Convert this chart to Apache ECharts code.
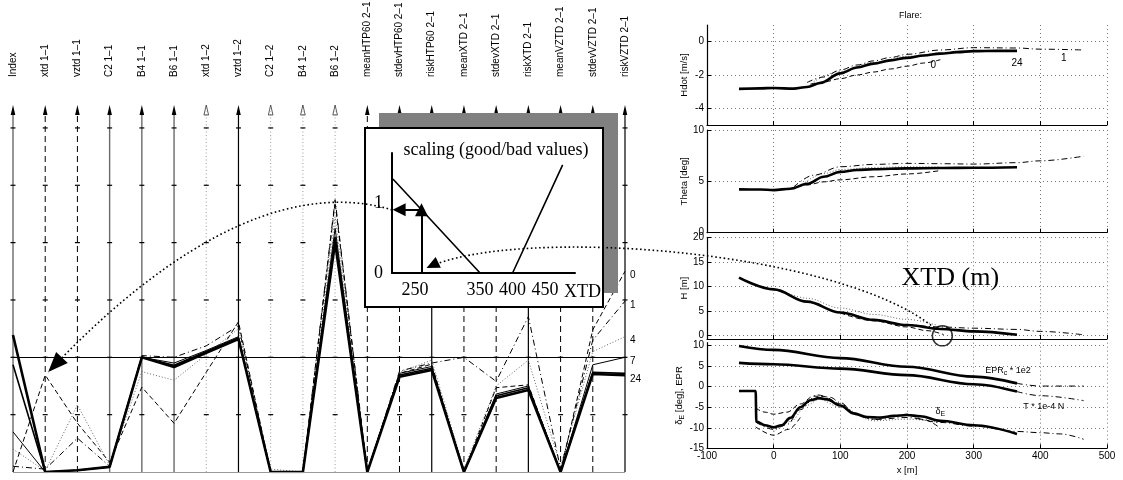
<!DOCTYPE html>
<html>
<head>
<meta charset="utf-8">
<script src="https://cdn.jsdelivr.net/npm/echarts@6/dist/echarts.min.js"></script>
<style>
  html, body { margin: 0; padding: 0; background: #fff; }
  #c { width: 1123px; height: 480px; }
</style>
</head>
<body>
<div id="c"></div>
<script>
// ---------------- Parallel coordinates (left panel) ----------------
const axisNames = ['Index', 'xtd 1–1', 'vztd 1–1', 'C2 1–1', 'B4 1–1', 'B6 1–1', 'xtd 1–2', 'vztd 1–2',
  'C2 1–2', 'B4 1–2', 'B6 1–2', 'meanHTP60 2–1', 'stdevHTP60 2–1', 'riskHTP60 2–1', 'meanXTD 2–1',
  'stdevXTD 2–1', 'riskXTD 2–1', 'meanVZTD 2–1', 'stdevVZTD 2–1', 'riskVZTD 2–1'];
const axisKinds = ['grey', 'dash', 'dash', 'grey', 'grey', 'grey', 'dot', 'solid', 'dot', 'dot', 'dot',
  'dash', 'dash', 'solid', 'dash', 'dash', 'solid', 'dash', 'dash', 'solid'];
const pcTickValues = [1, 2, 3, 4, 5, 6];
const pcThreshold = 2;

// one value per axis for each run (scaled axis units)
const run0  = [0.00, 1.69, 0.85, 0.17, 1.48, 0.85, 1.74, 2.62, 0.00, 0.00, 4.70, 0.00, 1.72, 1.88, 0.00, 1.47, 1.52, 0.00, 2.48, 3.50];
const run1  = [0.10, 0.05, 0.59, 0.10, 2.03, 2.00, 2.20, 2.55, 0.00, 0.00, 4.75, 0.00, 1.76, 1.90, 2.00, 1.58, 2.71, 0.05, 2.30, 2.98];
const run4  = [0.40, 0.02, 1.17, 0.12, 1.75, 1.60, 2.05, 2.50, 0.05, 0.00, 4.45, 0.02, 1.74, 1.95, 0.05, 1.50, 1.95, 0.10, 2.10, 2.36];
const run7  = [0.70, 0.00, 0.03, 0.09, 2.00, 1.90, 2.12, 2.36, 0.00, 0.00, 4.25, 0.00, 1.72, 1.84, 0.00, 1.36, 1.50, 0.00, 1.87, 2.00];
const run19 = [1.87, 0.00, 0.03, 0.09, 2.00, 1.86, 2.10, 2.34, 0.00, 0.00, 4.10, 0.00, 1.69, 1.81, 0.00, 1.33, 1.47, 0.00, 1.74, 1.72];
const run24 = [2.39, 0.00, 0.03, 0.09, 2.00, 1.83, 2.08, 2.32, 0.00, 0.00, 4.00, 0.00, 1.66, 1.78, 0.00, 1.29, 1.43, 0.00, 1.71, 1.69];

// ---------------- Inset: XTD scaling ----------------
const scalingXtd   = [216, 250, 350, 400, 450, 477];
const scalingScore = [1.34, 1, 0, 0, 1, 1.54];
const insetTicksX  = [250, 350, 400, 450];
const insetTicksY  = [0, 1];
const exampleXtd   = 260;

// ---------------- Flare time histories (right panel), [x (m), value] ----------------
const hdotRun24 = [[-52,-2.83],[-20,-2.8],[0,-2.78],[30,-2.82],[50,-2.72],[70,-2.48],[100,-1.9],[125,-1.55],[150,-1.32],[175,-1.12],[200,-0.97],[225,-0.83],[250,-0.72],[275,-0.63],[300,-0.57],[335,-0.55],[365,-0.55]];
const hdotRun0  = [[55,-2.55],[75,-2.42],[100,-2.22],[125,-2.0],[150,-1.82],[175,-1.64],[200,-1.47],[225,-1.28],[250,-1.08]];
const hdotRun1  = [[50,-2.45],[75,-2.12],[100,-1.7],[125,-1.4],[150,-1.15],[175,-0.95],[200,-0.76],[250,-0.5],[300,-0.36],[365,-0.38],[400,-0.45],[465,-0.5]];
const hdotRun4  = [[60,-2.4],[100,-1.78],[150,-1.24],[200,-0.88],[250,-0.64]];

const thetaRun24 = [[-52,4.22],[-20,4.2],[0,4.15],[25,4.28],[50,4.75],[75,5.45],[100,5.92],[125,6.1],[150,6.18],[200,6.26],[250,6.3],[300,6.33],[365,6.38]];
const thetaRun0  = [[25,4.3],[50,4.65],[75,4.95],[100,5.15],[150,5.45],[200,5.72],[250,6.05]];
const thetaRun1  = [[30,4.45],[60,5.6],[100,6.42],[150,6.65],[200,6.75],[250,6.72],[300,6.68],[365,6.82],[400,7.0],[465,7.45]];
const thetaRun4  = [[40,4.55],[75,5.75],[100,6.15],[150,6.35],[200,6.42],[250,6.4]];

const hRun24 = [[-52,11.8],[0,9.4],[50,6.9],[100,4.7],[150,3.2],[200,2.15],[250,1.35],[300,0.85],[365,0.15]];
const hRun0  = [[100,4.6],[150,3.0],[200,1.75],[230,1.0],[255,0.2]];
const hRun1  = [[200,2.3],[250,1.75],[300,1.5],[365,1.25],[400,0.85],[465,0.15]];
const hRun4  = [[10,9.3],[50,7.6],[100,5.6],[150,4.3],[200,3.3],[245,2.1]];
const xtdMarker = [253, -0.06];

const eprRun     = [[-52,9.9],[0,8.95],[100,6.95],[200,4.85],[300,2.45],[365,0.8]];
const eprExt     = [[365,0.8],[400,0.15],[465,0.15]];
const thrustRun  = [[-52,5.8],[0,5.45],[100,4.4],[200,2.8],[300,0.6],[365,-1.2]];
const thrustExt  = [[365,-1.2],[400,-2.2],[465,-3.4]];
const elevRun24  = [[-52,-1.05],[-27,-1.05],[-26,-8.5],[-13,-9.4],[0,-9.9],[12,-9.4],[25,-7.6],[40,-5.0],[55,-3.3],[68,-2.8],[80,-3.1],[100,-4.6],[120,-6.5],[140,-7.4],[160,-7.5],[180,-7.1],[200,-6.9],[220,-7.2],[250,-8.3],[300,-9.4],[365,-11.5]];
const elevRun0   = [[-27,-5.2],[-13,-6.2],[0,-6.7],[20,-6.2],[40,-4.2],[60,-2.3],[75,-2.4],[100,-4.2],[125,-6.8],[150,-7.9],[175,-7.3],[200,-6.7],[225,-8.0],[250,-10.1]];
const elevBand   = [[-27,-9.8],[0,-11.8],[22,-10.4],[40,-7.5]];
const elevRun1   = [[-27,-8.6],[0,-10.4],[20,-9.2],[40,-5.6],[65,-2.0],[85,-2.6],[100,-3.9],[125,-6.9],[150,-8.0],[200,-7.5],[250,-8.7],[300,-9.6],[365,-10.9],[400,-11.2],[430,-11.5],[465,-12.8]];
const elevRun4   = [[0,-11],[25,-8.5],[50,-4.5],[68,-3.1],[100,-5.0],[150,-8.3],[200,-7.9],[250,-8.7]];

const hdotTicks  = [-4, -2, 0];
const thetaTicks = [0, 5, 10];
const hTicks     = [0, 5, 10, 15, 20];
const elevTicks  = [-15, -10, -5, 0, 5, 10];

// ---------------- drawing ----------------
const SANS = '"Liberation Sans", Arial, Helvetica, sans-serif';
const SERIF = '"Liberation Serif", "Times New Roman", serif';
const PC_TOP = 6.4;
const INSET_MIN = 214.6, INSET_MAX = 496;

const LINE = {
  thick:   { color: '#000', width: 2.6, type: 'solid' },
  thin:    { color: '#000', width: 1, type: 'solid' },
  mid:     { color: '#000', width: 1.6, type: 'solid' },
  dash:    { color: '#000', width: 1, type: [5, 3] },
  dashdot: { color: '#000', width: 1, type: [6, 3, 1, 3] },
  dot:     { color: '#666', width: 1, type: [1, 2] }
};
const AXIS_KIND = {
  grey:  { color: '#6a6a6a', width: 1.4, dash: null, fill: true },
  solid: { color: '#000', width: 1.2, dash: null, fill: true },
  dash:  { color: '#000', width: 1, dash: [6, 4], fill: true },
  dot:   { color: '#9a9a9a', width: 1, dash: [1, 2.5], fill: false }
};

const chart = echarts.init(document.getElementById('c'), null, { renderer: 'canvas' });

function flareX(grid, showLabels) {
  return {
    gridIndex: grid, type: 'value', min: -100, max: 500, interval: 100,
    axisLine: { show: true, onZero: false, lineStyle: { color: '#000', width: 1.2 } },
    axisTick: { inside: true, length: 4, lineStyle: { color: '#000' } },
    axisLabel: { show: showLabels, fontSize: 10, margin: 3, color: '#000' },
    splitLine: { show: true, lineStyle: { color: '#777', type: [1, 3], width: 1 } },
    name: showLabels ? 'x [m]' : '', nameLocation: 'middle', nameGap: 17,
    nameTextStyle: { fontSize: 9.5, color: '#000' }
  };
}
function flareY(grid, min, max, ticks, name) {
  return {
    gridIndex: grid, type: 'value', min, max,
    axisLine: { show: true, onZero: false, lineStyle: { color: '#000', width: 1.2 } },
    axisTick: { inside: true, length: 4, customValues: ticks, lineStyle: { color: '#000' } },
    axisLabel: { customValues: ticks, fontSize: 10, margin: 3, color: '#000' },
    splitLine: { show: true, lineStyle: { color: '#777', type: [1, 3], width: 1 } },
    name, nameLocation: 'middle', nameGap: 18,
    nameTextStyle: { fontSize: 9.5, color: '#000',
      rich: { d: { fontSize: 9.5, lineHeight: 12 }, s: { fontSize: 7, lineHeight: 12, verticalAlign: 'bottom' } } }
  };
}
function flareLine(grid, data, style, z) {
  return {
    type: 'line', xAxisIndex: grid, yAxisIndex: grid, data, symbol: 'none',
    smooth: 0.35, smoothMonotone: 'x', z: z || 3, silent: true,
    lineStyle: LINE[style]
  };
}
function pcLine(name, data, style, withLabel) {
  return {
    type: 'line', name, xAxisIndex: 0, yAxisIndex: 0, z: 4, silent: true,
    data: data.map((v, i) => [i, v]), symbol: 'none', lineStyle: LINE[style],
    endLabel: { show: withLabel, formatter: '{a}', distance: 5, offset: [0, 4], fontSize: 10, color: '#000', fontFamily: SANS }
  };
}

const scalingData = scalingXtd.map((x, i) => [x, scalingScore[i]]);
// score of the example XTD
function scoreAt(x) {
  for (let i = 1; i < scalingXtd.length; i++) {
    if (x <= scalingXtd[i]) {
      const t = (x - scalingXtd[i - 1]) / (scalingXtd[i] - scalingXtd[i - 1]);
      return scalingScore[i - 1] + t * (scalingScore[i] - scalingScore[i - 1]);
    }
  }
  return scalingScore[scalingScore.length - 1];
}
const exampleScore = scoreAt(exampleXtd);

const option = {
  animation: false,
  backgroundColor: '#fff',
  textStyle: { fontFamily: SANS, color: '#000' },
  title: { text: 'Flare:', left: 894, top: 6, textStyle: { fontSize: 9, fontWeight: 'normal', color: '#000', fontFamily: SANS } },
  grid: [
    { left: 13, top: 105, width: 612, bottom: 8 },
    { left: 707, top: 25, width: 400, height: 100 },
    { left: 707, top: 130, width: 400, height: 102.7 },
    { left: 707, top: 237.3, width: 400, height: 101.7 },
    { left: 707, top: 342.7, width: 400, height: 105.6 },
    { left: 392, top: 153, width: 183, height: 120 }
  ].map(g => Object.assign({ outerBoundsMode: 'none' }, g)),
  xAxis: [
    {
      gridIndex: 0, type: 'value', min: 0, max: axisNames.length - 1, interval: 1, position: 'top',
      axisLine: { show: false }, axisTick: { show: false }, splitLine: { show: false },
      axisLabel: { rotate: 90, margin: 28, fontSize: 10, color: '#000', formatter: v => axisNames[v] || '' }
    },
    flareX(1, false), flareX(2, false), flareX(3, false), flareX(4, true),
    {
      gridIndex: 5, type: 'value', min: INSET_MIN, max: INSET_MAX, z: 12,
      axisLine: { show: true, onZero: false, lineStyle: { color: '#000', width: 2 } },
      axisTick: { show: false }, splitLine: { show: false },
      axisLabel: { customValues: insetTicksX, fontFamily: SERIF, fontSize: 18, margin: 8, color: '#000' },
      name: 'XTD', nameLocation: 'end', nameGap: -11, nameMoveOverlap: false,
      nameTextStyle: { fontFamily: SERIF, fontSize: 18, color: '#000', verticalAlign: 'top', padding: [10, 0, 0, 0] }
    }
  ],
  yAxis: [
    { gridIndex: 0, type: 'value', min: 0, max: PC_TOP, show: false },
    flareY(1, -5, 1, hdotTicks, 'Hdot [m/s]'),
    flareY(2, 0, 10, thetaTicks, 'Theta [deg]'),
    flareY(3, -0.7, 20, hTicks, 'H [m]'),
    flareY(4, -15, 10.7, elevTicks, '{d|δ}{s|E}{d| [deg], EPR}'),
    {
      gridIndex: 5, type: 'value', min: 0, max: 1.71, z: 12,
      axisLine: { show: true, onZero: false, lineStyle: { color: '#000', width: 2 } },
      axisTick: { show: false }, splitLine: { show: false },
      axisLabel: { customValues: insetTicksY, fontFamily: SERIF, fontSize: 18, margin: 9, color: '#000' }
    }
  ],
  series: [
    // parallel axes with arrowheads and ticks
    {
      type: 'custom', xAxisIndex: 0, yAxisIndex: 0, z: 2, silent: true,
      data: axisNames.map((n, i) => [i, 0]),
      renderItem(params, api) {
        const i = api.value(0);
        const k = AXIS_KIND[axisKinds[i]];
        const base = api.coord([i, 0]);
        const top = api.coord([i, PC_TOP]);
        const children = [{
          type: 'line',
          shape: { x1: base[0], y1: base[1], x2: top[0], y2: top[1] + 6 },
          style: { stroke: k.color, lineWidth: k.width, lineDash: k.dash }
        }, {
          type: 'polygon',
          shape: { points: [[top[0], top[1]], [top[0] - 2.3, top[1] + 10], [top[0] + 2.3, top[1] + 10]] },
          style: k.fill ? { fill: '#000' } : { fill: 'none', stroke: '#333', lineWidth: 0.8 }
        }];
        pcTickValues.forEach(t => {
          const p = api.coord([i, t]);
          children.push({ type: 'line', shape: { x1: p[0] - 2.5, y1: p[1], x2: p[0] + 2.5, y2: p[1] },
            style: { stroke: '#000', lineWidth: 1.2 } });
        });
        return { type: 'group', children };
      }
    },
    Object.assign(pcLine('4', run4, 'dot', true), {
      markLine: {
        silent: true, symbol: 'none', label: { show: false },
        data: [
          { yAxis: pcThreshold, lineStyle: { color: '#000', width: 1.2, type: 'solid' } },
          { yAxis: 0, lineStyle: { color: '#999', width: 1, type: 'solid' } }
        ]
      }
    }),
    pcLine('1', run1, 'dashdot', true),
    pcLine('0', run0, 'dash', true),
    pcLine('7', run7, 'thin', true),
    pcLine('19', run19, 'mid', false),
    pcLine('24', run24, 'thick', true),

    // Hdot
    flareLine(1, hdotRun4, 'dot'), flareLine(1, hdotRun0, 'dash'), flareLine(1, hdotRun1, 'dashdot'), flareLine(1, hdotRun24, 'thick', 4),
    // Theta
    flareLine(2, thetaRun4, 'dot'), flareLine(2, thetaRun0, 'dash'), flareLine(2, thetaRun1, 'dashdot'), flareLine(2, thetaRun24, 'thick', 4),
    // H
    flareLine(3, hRun4, 'dot'), flareLine(3, hRun0, 'dash'), flareLine(3, hRun1, 'dashdot'), flareLine(3, hRun24, 'thick', 4),
    {
      type: 'scatter', xAxisIndex: 3, yAxisIndex: 3, z: 6, silent: true, data: [xtdMarker],
      symbol: 'circle', symbolSize: 20, itemStyle: { color: 'rgba(0,0,0,0)', borderColor: '#000', borderWidth: 1.5 }
    },
    // elevator, EPR and thrust
    flareLine(4, eprRun, 'thick', 4), flareLine(4, eprExt, 'dashdot'),
    flareLine(4, thrustRun, 'thick', 4), flareLine(4, thrustExt, 'dashdot'),
    flareLine(4, elevRun4, 'dot'), flareLine(4, elevRun0, 'dash'), flareLine(4, elevBand, 'dash'),
    flareLine(4, elevRun1, 'dashdot'), flareLine(4, elevRun24, 'thick', 4),

    // inset scaling curve
    {
      type: 'line', xAxisIndex: 5, yAxisIndex: 5, z: 13, silent: true, data: scalingData, symbol: 'none',
      lineStyle: { color: '#000', width: 1.6 },
      markLine: {
        silent: true, symbol: 'none', label: { show: false },
        lineStyle: { color: '#000', width: 1.3, type: [1.5, 2.5] },
        data: [
          [{ coord: [INSET_MIN, 1] }, { coord: [490, 1] }],
          [{ coord: [250, 0] }, { coord: [250, 1] }],
          [{ coord: [450, 0] }, { coord: [450, 1] }]
        ]
      }
    },
    {
      type: 'lines', coordinateSystem: 'cartesian2d', xAxisIndex: 5, yAxisIndex: 5, z: 14, silent: true,
      symbol: ['none', 'triangle'], symbolSize: 13,
      lineStyle: { color: '#000', width: 2, opacity: 1 },
      data: [
        { coords: [[exampleXtd, 0], [exampleXtd, exampleScore]] },
        { coords: [[exampleXtd, exampleScore], [INSET_MIN + 11, exampleScore]] }
      ]
    }
  ]
};

chart.setOption(option);

// annotation layer: inset frame, connecting arrows and labels
function arrowHead(tip, from, len, hw) {
  const dx = tip[0] - from[0], dy = tip[1] - from[1];
  const d = Math.hypot(dx, dy) || 1;
  const ux = dx / d, uy = dy / d;
  const bx = tip[0] - ux * len, by = tip[1] - uy * len;
  return [[tip[0], tip[1]], [bx - uy * hw, by + ux * hw], [bx + uy * hw, by - ux * hw]];
}
function annotate() {
  const px = (g, p) => chart.convertToPixel({ gridIndex: g }, p);
  const dotted = { stroke: '#000', lineWidth: 1.6, lineDash: [1.6, 2.6], fill: 'none' };

  // from the inset's score arrow to the parallel axis it scores
  const a0 = px(5, [INSET_MIN, exampleScore]);
  const a3p = px(0, [1, run0[1]]);
  const a3 = [a3p[0] + 3, a3p[1] - 3];
  const a1 = [a0[0] - 60, a0[1] - 18];
  const a2 = [a3[0] + 170, a3[1] - 180];

  // from the touchdown point on H to the inset's XTD arrow
  const c = px(3, xtdMarker);
  const b0 = [c[0] - 8, c[1] - 8];
  const bb = px(5, [exampleXtd, 0]);
  const b3 = [bb[0] + 5, bb[1] - 5];
  const b1 = [b0[0] - 95, b0[1] - 78];
  const b2 = [b3[0] + 90, b3[1] - 43];

  const lbl = (g, p, dx, dy, text, extra) => {
    const q = px(g, p);
    return {
      type: 'text', z: 15, silent: true,
      style: Object.assign({ text, x: q[0] + dx, y: q[1] + dy, align: 'center', verticalAlign: 'middle',
        font: '10px ' + SANS, fill: '#000' }, extra || {})
    };
  };
  const subRich = { a: { fontSize: 9, lineHeight: 12, fontFamily: SANS }, s: { fontSize: 7, lineHeight: 12, verticalAlign: 'bottom', fontFamily: SANS } };

  chart.setOption({
    graphic: [
      { type: 'rect', z: 10, silent: true, shape: { x: 379, y: 113, width: 239, height: 180 }, style: { fill: '#808080' } },
      { type: 'rect', z: 11, silent: true, shape: { x: 365, y: 128, width: 238, height: 179 }, style: { fill: '#fff', stroke: '#000', lineWidth: 2 } },
      { type: 'text', z: 15, silent: true, style: { text: 'scaling (good/bad values)', x: 496, y: 150, align: 'center', verticalAlign: 'middle', font: '18px ' + SERIF, fill: '#000' } },
      { type: 'bezierCurve', z: 16, silent: true, shape: { x1: a0[0], y1: a0[1], cpx1: a1[0], cpy1: a1[1], cpx2: a2[0], cpy2: a2[1], x2: a3[0], y2: a3[1] }, style: dotted },
      { type: 'polygon', z: 16, silent: true, shape: { points: arrowHead(a3, a2, 20, 8) }, style: { fill: '#000' } },
      { type: 'bezierCurve', z: 16, silent: true, shape: { x1: b0[0], y1: b0[1], cpx1: b1[0], cpy1: b1[1], cpx2: b2[0], cpy2: b2[1], x2: b3[0], y2: b3[1] }, style: dotted },
      { type: 'polygon', z: 16, silent: true, shape: { points: arrowHead(b3, b2, 13, 6) }, style: { fill: '#000' } },
      { type: 'text', z: 15, silent: true, style: { text: 'XTD (m)', x: c[0] + 8, y: c[1] - 58, align: 'center', verticalAlign: 'middle', font: '26px ' + SERIF, fill: '#000' } },
      lbl(1, hdotRun24[hdotRun24.length - 1], 0, 12, '24'),
      lbl(1, hdotRun0[hdotRun0.length - 1], -7, 6, '0'),
      lbl(1, hdotRun1[hdotRun1.length - 1], -20, 8, '1'),
      lbl(4, eprRun[eprRun.length - 1], -9, -13, '{a|EPR}{s|c}{a| * 1e2}', { rich: subRich, font: null }),
      lbl(4, thrustExt[thrustExt.length - 1], -40, 6, 'T * 1e-4 N', { font: '9px ' + SANS }),
      lbl(4, elevRun24[18], 0, -9, '{a|δ}{s|E}', { rich: subRich, font: null })
    ]
  });
}
annotate();
</script>
</body>
</html>
